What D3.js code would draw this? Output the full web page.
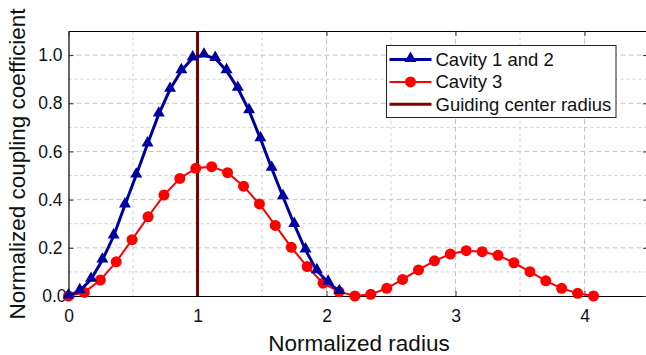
<!DOCTYPE html>
<html>
<head>
<meta charset="utf-8">
<script src="https://cdn.jsdelivr.net/npm/d3@7"></script>
<style>
  body { margin: 0; background: #fff; }
  svg { font-family: "Liberation Sans", Arial, sans-serif; }
</style>
</head>
<body>
<script>
'use strict';
// values
let blueX = [0, 0.0875, 0.175, 0.2625, 0.35, 0.4375, 0.525, 0.6125, 0.7, 0.7875, 0.875, 0.9625,
  1.05, 1.1375, 1.225, 1.3125, 1.4, 1.4875, 1.575, 1.6625, 1.75, 1.8375, 1.925, 2.0125, 2.1];
let blueY = [0, 0.022, 0.069, 0.149, 0.249, 0.378, 0.502, 0.631, 0.755, 0.858, 0.935, 0.988,
  1.0, 0.986, 0.935, 0.862, 0.769, 0.653, 0.530, 0.412, 0.297, 0.191, 0.105, 0.057, 0.018];
let redX = [0, 0.123, 0.247, 0.37, 0.493, 0.617, 0.74, 0.863, 0.987, 1.11, 1.233, 1.357,
  1.48, 1.603, 1.727, 1.85, 1.973, 2.097, 2.22, 2.343, 2.467, 2.59, 2.713, 2.837, 2.96, 3.083,
  3.207, 3.33, 3.453, 3.577, 3.7, 3.823, 3.947, 4.07];
let redY = [0, 0.015, 0.066, 0.142, 0.234, 0.329, 0.419, 0.488, 0.530, 0.537, 0.512, 0.456,
  0.382, 0.293, 0.202, 0.122, 0.053, 0.018, 0.0, 0.007, 0.032, 0.069, 0.108, 0.146, 0.174, 0.188,
  0.184, 0.169, 0.138, 0.101, 0.063, 0.032, 0.011, 0.0];
let guideX = 1;
let xTicks = [0, 1, 2, 3, 4];
let yTicks = [0, 0.2, 0.4, 0.6, 0.8, 1.0];
let legendLabels = ['Cavity 1 and 2', 'Cavity 3', 'Guiding center radius'];

let blue = '#0000a0', red = '#ff0000', brown = '#800000';

let margin = {left: 68.5, top: 31, right: -3, bottom: 59};
let width = 646 - margin.left - margin.right;
let height = 355 - margin.top - margin.bottom;

let x = d3.scaleLinear().domain([0, 4.5]).range([0, width]);
let y = d3.scaleLinear().domain([0, 1.1]).range([height, 0]);

let svg = d3.select('body').append('svg').attr('width', 646).attr('height', 355);
let g = svg.append('g').attr('transform', 'translate(' + margin.left + ',' + margin.top + ')');

// grid
let yMinor = d3.range(1, 11).map(d => d / 10);
g.selectAll('.hgrid').data(yMinor).enter().append('line')
  .attr('x1', 0).attr('x2', width)
  .attr('y1', d => y(d)).attr('y2', d => y(d))
  .attr('stroke', d => Math.round(d * 10) % 2 === 0 ? '#c4c4c4' : '#d0d0d0')
  .attr('stroke-dasharray', d => Math.round(d * 10) % 2 === 0 ? '5,3' : '3,3');
let xGrid = d3.range(1, 9).map(d => d / 2);
g.selectAll('.vgrid').data(xGrid).enter().append('line')
  .attr('x1', d => x(d)).attr('x2', d => x(d))
  .attr('y1', 0).attr('y2', height)
  .attr('stroke', d => d % 1 === 0 ? '#c4c4c4' : '#d0d0d0')
  .attr('stroke-dasharray', d => d % 1 === 0 ? '5,3' : '3,3');

// axes
let xAxis = d3.axisBottom(x).tickValues(xTicks).tickFormat(d3.format('d')).tickSizeInner(-5).tickSizeOuter(0).tickPadding(14);
let yAxis = d3.axisLeft(y).tickValues(yTicks).tickFormat(d3.format('.1f')).tickSizeInner(-5).tickSizeOuter(0).tickPadding(6);
let xTop = d3.axisTop(x).tickValues(xTicks).tickFormat('').tickSizeInner(-5).tickSizeOuter(0);
let yRight = d3.axisRight(y).tickValues(yTicks).tickFormat('').tickSizeInner(-6).tickSizeOuter(0);

let gx = g.append('g').attr('transform', 'translate(0,' + height + ')').call(xAxis);
let gy = g.append('g').call(yAxis);
let gt = g.append('g').call(xTop);
let gr = g.append('g').attr('transform', 'translate(' + width + ',0)').call(yRight);
[gx, gy, gt, gr].forEach(a => {
  a.selectAll('text').attr('font-size', 17.5).attr('fill', '#111').attr('font-family', '"Liberation Sans", Arial, sans-serif');
  a.select('.domain').attr('stroke', '#000').attr('stroke-width', 1.2);
  a.selectAll('.tick line').attr('stroke', '#333');
});
gy.select('.tick text').attr('dx', 4);

// guiding center radius
g.append('line')
  .attr('x1', x(guideX)).attr('x2', x(guideX))
  .attr('y1', 0).attr('y2', height)
  .attr('stroke', brown).attr('stroke-width', 3);

let line = d3.line().x(d => x(d[0])).y(d => y(d[1]));
let redData = redX.map((v, i) => [v, redY[i]]);
let blueData = blueX.map((v, i) => [v, blueY[i]]);

g.append('path').attr('d', line(redData)).attr('fill', 'none').attr('stroke', red).attr('stroke-width', 2);
g.selectAll('.rp').data(redData).enter().append('circle')
  .attr('cx', d => x(d[0])).attr('cy', d => y(d[1])).attr('r', 5.5).attr('fill', red);

g.append('path').attr('d', line(blueData)).attr('fill', 'none').attr('stroke', blue).attr('stroke-width', 3);
let tri = d3.symbol().type(d3.symbolTriangle).size(62);
g.selectAll('.bp').data(blueData).enter().append('path')
  .attr('d', tri).attr('fill', blue)
  .attr('transform', d => 'translate(' + x(d[0]) + ',' + (y(d[1]) - 1) + ')');

// legend
let lg = svg.append('g').attr('transform', 'translate(386.5,45.5)');
lg.append('rect').attr('width', 229.5).attr('height', 72).attr('fill', '#fff').attr('stroke', '#222').attr('stroke-width', 1);
let rows = [14, 36.4, 58.7];
legendLabels.forEach((lab, i) => {
  let col = [blue, red, brown][i];
  lg.append('line').attr('x1', 3).attr('x2', 45).attr('y1', rows[i]).attr('y2', rows[i])
    .attr('stroke', col).attr('stroke-width', i === 1 ? 2 : 3);
  if (i === 0) lg.append('path').attr('d', tri).attr('fill', blue).attr('transform', 'translate(24,' + (rows[i] - 1) + ')');
  if (i === 1) lg.append('circle').attr('cx', 24).attr('cy', rows[i]).attr('r', 5.5).attr('fill', red);
  lg.append('text').attr('x', 49).attr('y', rows[i] + 6.5).attr('font-size', 18.5).attr('fill', '#111').text(lab);
});

// axis titles
svg.append('text').attr('x', 359).attr('y', 351).attr('text-anchor', 'middle')
  .attr('font-size', 22.5).attr('fill', '#111').text('Normalized radius');
svg.append('text').attr('transform', 'translate(25,164) rotate(-90)').attr('text-anchor', 'middle')
  .attr('font-size', 22.5).attr('fill', '#111').text('Normalized coupling coefficient');
</script>
</body>
</html>
